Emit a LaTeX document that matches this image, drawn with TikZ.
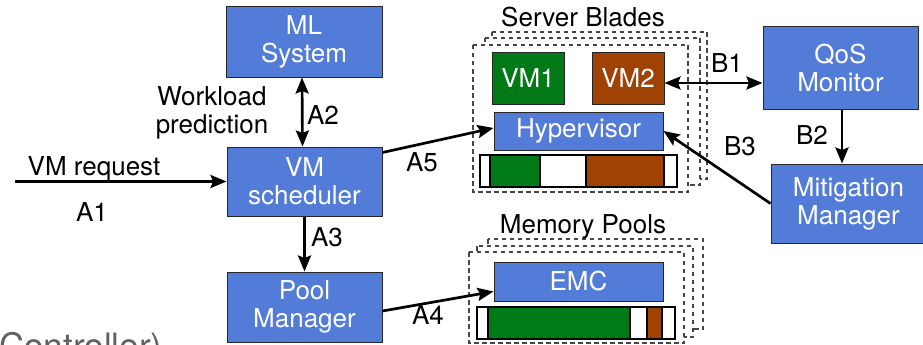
\documentclass[tikz,border=0pt]{standalone}
\usepackage{fontspec}
\setmainfont{TeX Gyre Heros}
\usetikzlibrary{arrows.meta}

\definecolor{boxblue}{RGB}{82,124,216}
\definecolor{vmgreen}{RGB}{0,122,22}
\definecolor{vmbrown}{RGB}{160,66,4}
\definecolor{dashgray}{RGB}{70,70,70}

\tikzset{
  txt/.style={font=\fontsize{26}{28}\selectfont},
  blk/.style={txt, draw=black!85, line width=1pt, fill=boxblue, text=white,
              align=center, inner sep=0pt},
  vmbox/.style={txt, draw=black!85, line width=1pt, text=white, inner sep=0pt},
  lbl/.style={txt, inner sep=0pt, anchor=base},
  tip/.tip={Stealth[length=16pt,width=13pt,inset=2.5pt]},
  conn/.style={line width=2.7pt, -tip},
  dbl/.style={line width=2.7pt, tip-tip},
  layer/.style={draw=dashgray, line width=1.2pt, dash pattern=on 4.5pt off 3.5pt, fill=white},
  bar/.style={draw=black, line width=1.3pt, fill=white}
}

\begin{document}
\begin{tikzpicture}[x=1pt,y=-1pt]
\useasboundingbox (0,0) rectangle (923,345);
\clip (0,0) rectangle (923,345);

% server blade stack
\draw[layer] (492,32) rectangle (707,179);
\draw[layer] (485,38) rectangle (700,185);
\draw[layer] (473,45) rectangle (688,192);
\node[lbl] (sbt) at (583,27) {Server Blades};

\node[vmbox, fill=vmgreen, minimum width=72pt, minimum height=51pt] (vm1) at (528,78.5) {VM1};
\node[vmbox, fill=vmbrown, minimum width=72pt, minimum height=51pt] (vm2) at (628,78.5) {VM2};
\node[blk, minimum width=169pt, minimum height=38pt] (hyp) at (578.5,131) {Hypervisor};

% blade memory bar
\draw[bar] (480,155) rectangle (677,187);
\fill[vmgreen] (490,155) rectangle (540,187);
\fill[vmbrown] (586,155) rectangle (664,187);
\draw[black, line width=1.3pt] (490,155) -- (490,187) (540,155) -- (540,187)
  (586,155) -- (586,187) (664,155) -- (664,187);
\draw[line width=1.3pt] (480,155) rectangle (677,187);

% memory pool stack
\draw[layer] (488,239) rectangle (703,329);
\draw[layer] (477,246) rectangle (693,337);
\draw[layer] (469,252) rectangle (684,343);
\node[lbl] (mpt) at (583,233) {Memory Pools};

\node[blk, minimum width=169pt, minimum height=39pt] (emc) at (578.5,281.5) {EMC};

% pool memory bar
\draw[bar] (477,307) rectangle (675,339);
\fill[vmgreen] (488,307) rectangle (630,339);
\fill[vmbrown] (647,307) rectangle (662,339);
\draw[black, line width=1.3pt] (488,307) -- (488,339) (630,307) -- (630,339)
  (647,307) -- (647,339) (662,307) -- (662,339);
\draw[line width=1.3pt] (477,307) rectangle (675,339);

% control plane
\node[blk, minimum width=156pt, minimum height=70pt] (ml) at (304,42) {ML\\System};
\node[blk, minimum width=155pt, minimum height=69pt] (vms) at (304.5,181.5) {VM\\scheduler};
\node[blk, minimum width=155pt, minimum height=70pt] (pool) at (304.5,307) {Pool\\Manager};
\node[blk, minimum width=155pt, minimum height=82pt] (qos) at (840.5,68) {QoS\\Monitor};
\node[blk, minimum width=155pt, minimum height=79pt] (mit) at (848.5,203.5) {Mitigation\\Manager};

% connectors
\coordinate (req) at (15,181.5);
\draw[conn] (req) -- (vms.west);
\node[lbl] (lreq) at (94,175) {VM request};
\node[lbl] (la1) at (92,221) {A1};

\draw[dbl] ([xshift=-2pt]ml.south) -- ([xshift=-2pt]vms.north);
\node[txt, inner sep=0pt, align=center] (lwp) at (212,112.7) {Workload\\prediction};
\node[lbl] (la2) at (323,124) {A2};

\draw[conn] (vms.south) -- (pool.north);
\node[lbl] (la3) at (327,246) {A3};

\draw[conn] ([yshift=-6pt]vms.north east) -- ([yshift=3pt]hyp.west);
\node[lbl] (la5) at (422,171) {A5};

\draw[conn] ([yshift=-4pt]pool.east) -- ([yshift=-10pt]emc.west);
\node[lbl] (la4) at (428,324) {A4};

\draw[dbl] ([yshift=-4.5pt]vm2.east) -- ([yshift=-4.5pt]vm2.east -| qos.west);
\node[lbl] (lb1) at (727,72) {B1};

\draw[conn] ([xshift=1.5pt]qos.south) -- ([xshift=1.5pt]qos.south |- mit.north);
\node[lbl] (lb2) at (812,144) {B2};

\draw[conn] (mit.west) -- (hyp.east);
\node[lbl] (lb3) at (740,155) {B3};

% caption fragment along the lower edge
\node[anchor=base west, inner sep=0pt, text=black!62,
      font=\fontsize{35}{40}\selectfont] (ctl) at (-1,358) {Controller)};
\end{tikzpicture}
\end{document}
